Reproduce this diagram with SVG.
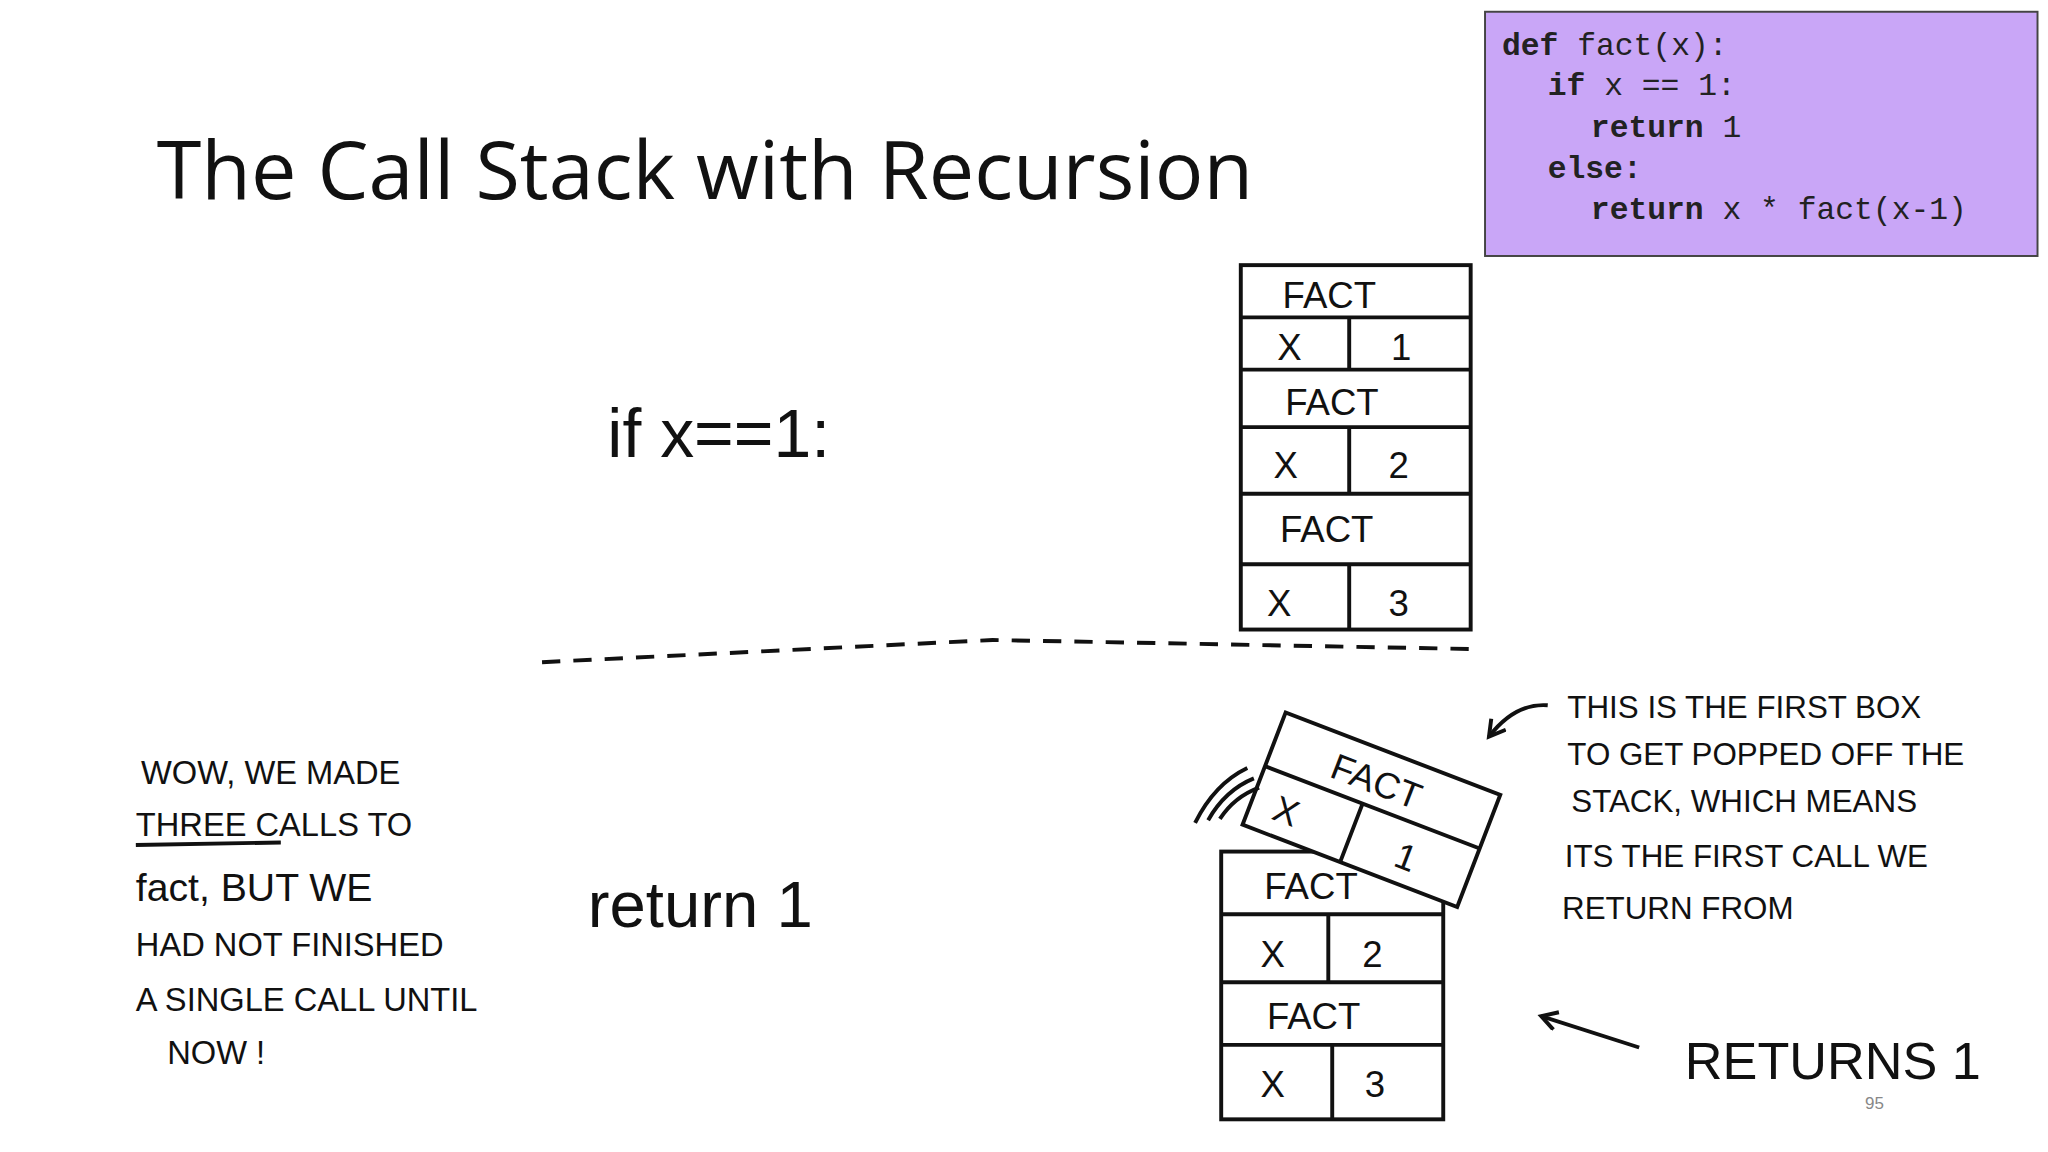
<svg xmlns="http://www.w3.org/2000/svg" width="2048" height="1152" viewBox="0 0 2048 1152">
<style>
.hand{font-family:"Liberation Sans","DejaVu Sans",sans-serif;fill:#111}
.box{fill:none;stroke:#111;stroke-width:3}
.ln{stroke:#111;stroke-width:3;fill:none}
.code{font-family:"Liberation Mono","DejaVu Sans Mono",monospace;font-size:24px;fill:#222}
</style>
<defs><marker id="ah" markerUnits="userSpaceOnUse" markerWidth="20" markerHeight="20" refX="14" refY="8" orient="auto"><path d="M2,1 L14,8 L2,15" fill="none" stroke="#111" stroke-width="3"/></marker></defs>
<rect width="2048" height="1152" fill="#fff"/>
<g transform="scale(1.3061)">
<text x="120" y="152" font-family="Open Sans,Liberation Sans,sans-serif" font-size="62" fill="#111">The Call Stack with Recursion</text>
<g id="code">
<rect x="1137" y="9" width="423" height="187" fill="#c9a6f7" stroke="#444" stroke-width="1.5"/>
<text class="code" x="1150" y="42"><tspan font-weight="bold">def</tspan> fact(x):</text>
<text class="code" x="1185" y="73"><tspan font-weight="bold">if</tspan> x == 1:</text>
<text class="code" x="1218" y="105"><tspan font-weight="bold">return</tspan> 1</text>
<text class="code" x="1185" y="136" font-weight="bold">else:</text>
<text class="code" x="1218" y="168"><tspan font-weight="bold">return</tspan> x * fact(x-1)</text>
</g>
<g id="stack-top">
<rect class="box" x="950" y="203" width="176" height="279"/>
<path class="ln" d="M950,243H1126M950,283H1126M950,327H1126M950,378H1126M950,432H1126M1033,243V283M1033,327V378M1033,432V482"/>
<g class="hand" font-size="28">
<text x="982" y="236">FACT</text><text x="978" y="276">X</text><text x="1065" y="276">1</text>
<text x="984" y="318">FACT</text><text x="975" y="366">X</text><text x="1063" y="366">2</text>
<text x="980" y="415">FACT</text><text x="970" y="472">X</text><text x="1063" y="472">3</text>
</g>
</g>
<g id="divider"><path class="ln" stroke-width="2.5" stroke-dasharray="14,10" d="M415,507 L760,490 L1130,497"/></g>
<text class="hand" x="465" y="350" font-size="52">if x==1:</text>
<text class="hand" x="450" y="710" font-size="50">return 1</text>
<g id="note-left" class="hand" font-size="25">
<text x="108" y="600">WOW, WE MADE</text>
<text x="104" y="640">THREE  CALLS TO</text>
<line class="ln" x1="104" y1="647" x2="215" y2="645" stroke-width="2"/>
<text x="104" y="690" font-size="30">fact, BUT WE</text>
<text x="104" y="732">HAD NOT FINISHED</text>
<text x="104" y="774">A SINGLE CALL UNTIL</text>
<text x="128" y="815">NOW !</text>
</g>
<g id="stack-bottom">
<rect class="box" x="935" y="652" width="170" height="205"/>
<path class="ln" d="M935,700H1105M935,752H1105M935,800H1105M1017,700V752M1020,800V857"/>
<g class="hand" font-size="28">
<text x="968" y="688">FACT</text><text x="965" y="740">X</text><text x="1043" y="740">2</text>
<text x="970" y="788">FACT</text><text x="965" y="840">X</text><text x="1045" y="840">3</text>
</g>
</g>
<g id="popped" transform="translate(1050,620) rotate(21)">
<rect x="-88" y="-46" width="176" height="92" fill="#fff" stroke="#111" stroke-width="3"/>
<path class="ln" d="M-88,-2H88M-8,-2V46"/>
<g class="hand" font-size="28"><text x="-40" y="-12">FACT</text><text x="-70" y="34">X</text><text x="30" y="34">1</text></g>
</g>
<path class="ln" stroke-width="2" d="M915,630 Q930,600 955,588M925,628 Q938,605 960,596M934,627 Q945,610 964,603"/>
<g id="note-right" class="hand" font-size="24">
<text x="1200" y="550">THIS IS THE FIRST BOX</text>
<text x="1200" y="586">TO GET POPPED OFF THE</text>
<text x="1203" y="622">STACK, WHICH MEANS</text>
<text x="1198" y="664">ITS THE FIRST CALL WE</text>
<text x="1196" y="704">RETURN FROM</text>
</g>
<g id="connectors">
<path class="ln" d="M1185,540 Q1160,538 1140,564" marker-end="url(#ah)"/>
<path class="ln" d="M1255,802 L1180,778" marker-end="url(#ah)"/>
</g>
<text class="hand" x="1290" y="826" font-size="40">RETURNS 1</text>
<text x="1428" y="849" font-family="Liberation Sans,sans-serif" font-size="13" fill="#888">95</text>
</g>
</svg>
